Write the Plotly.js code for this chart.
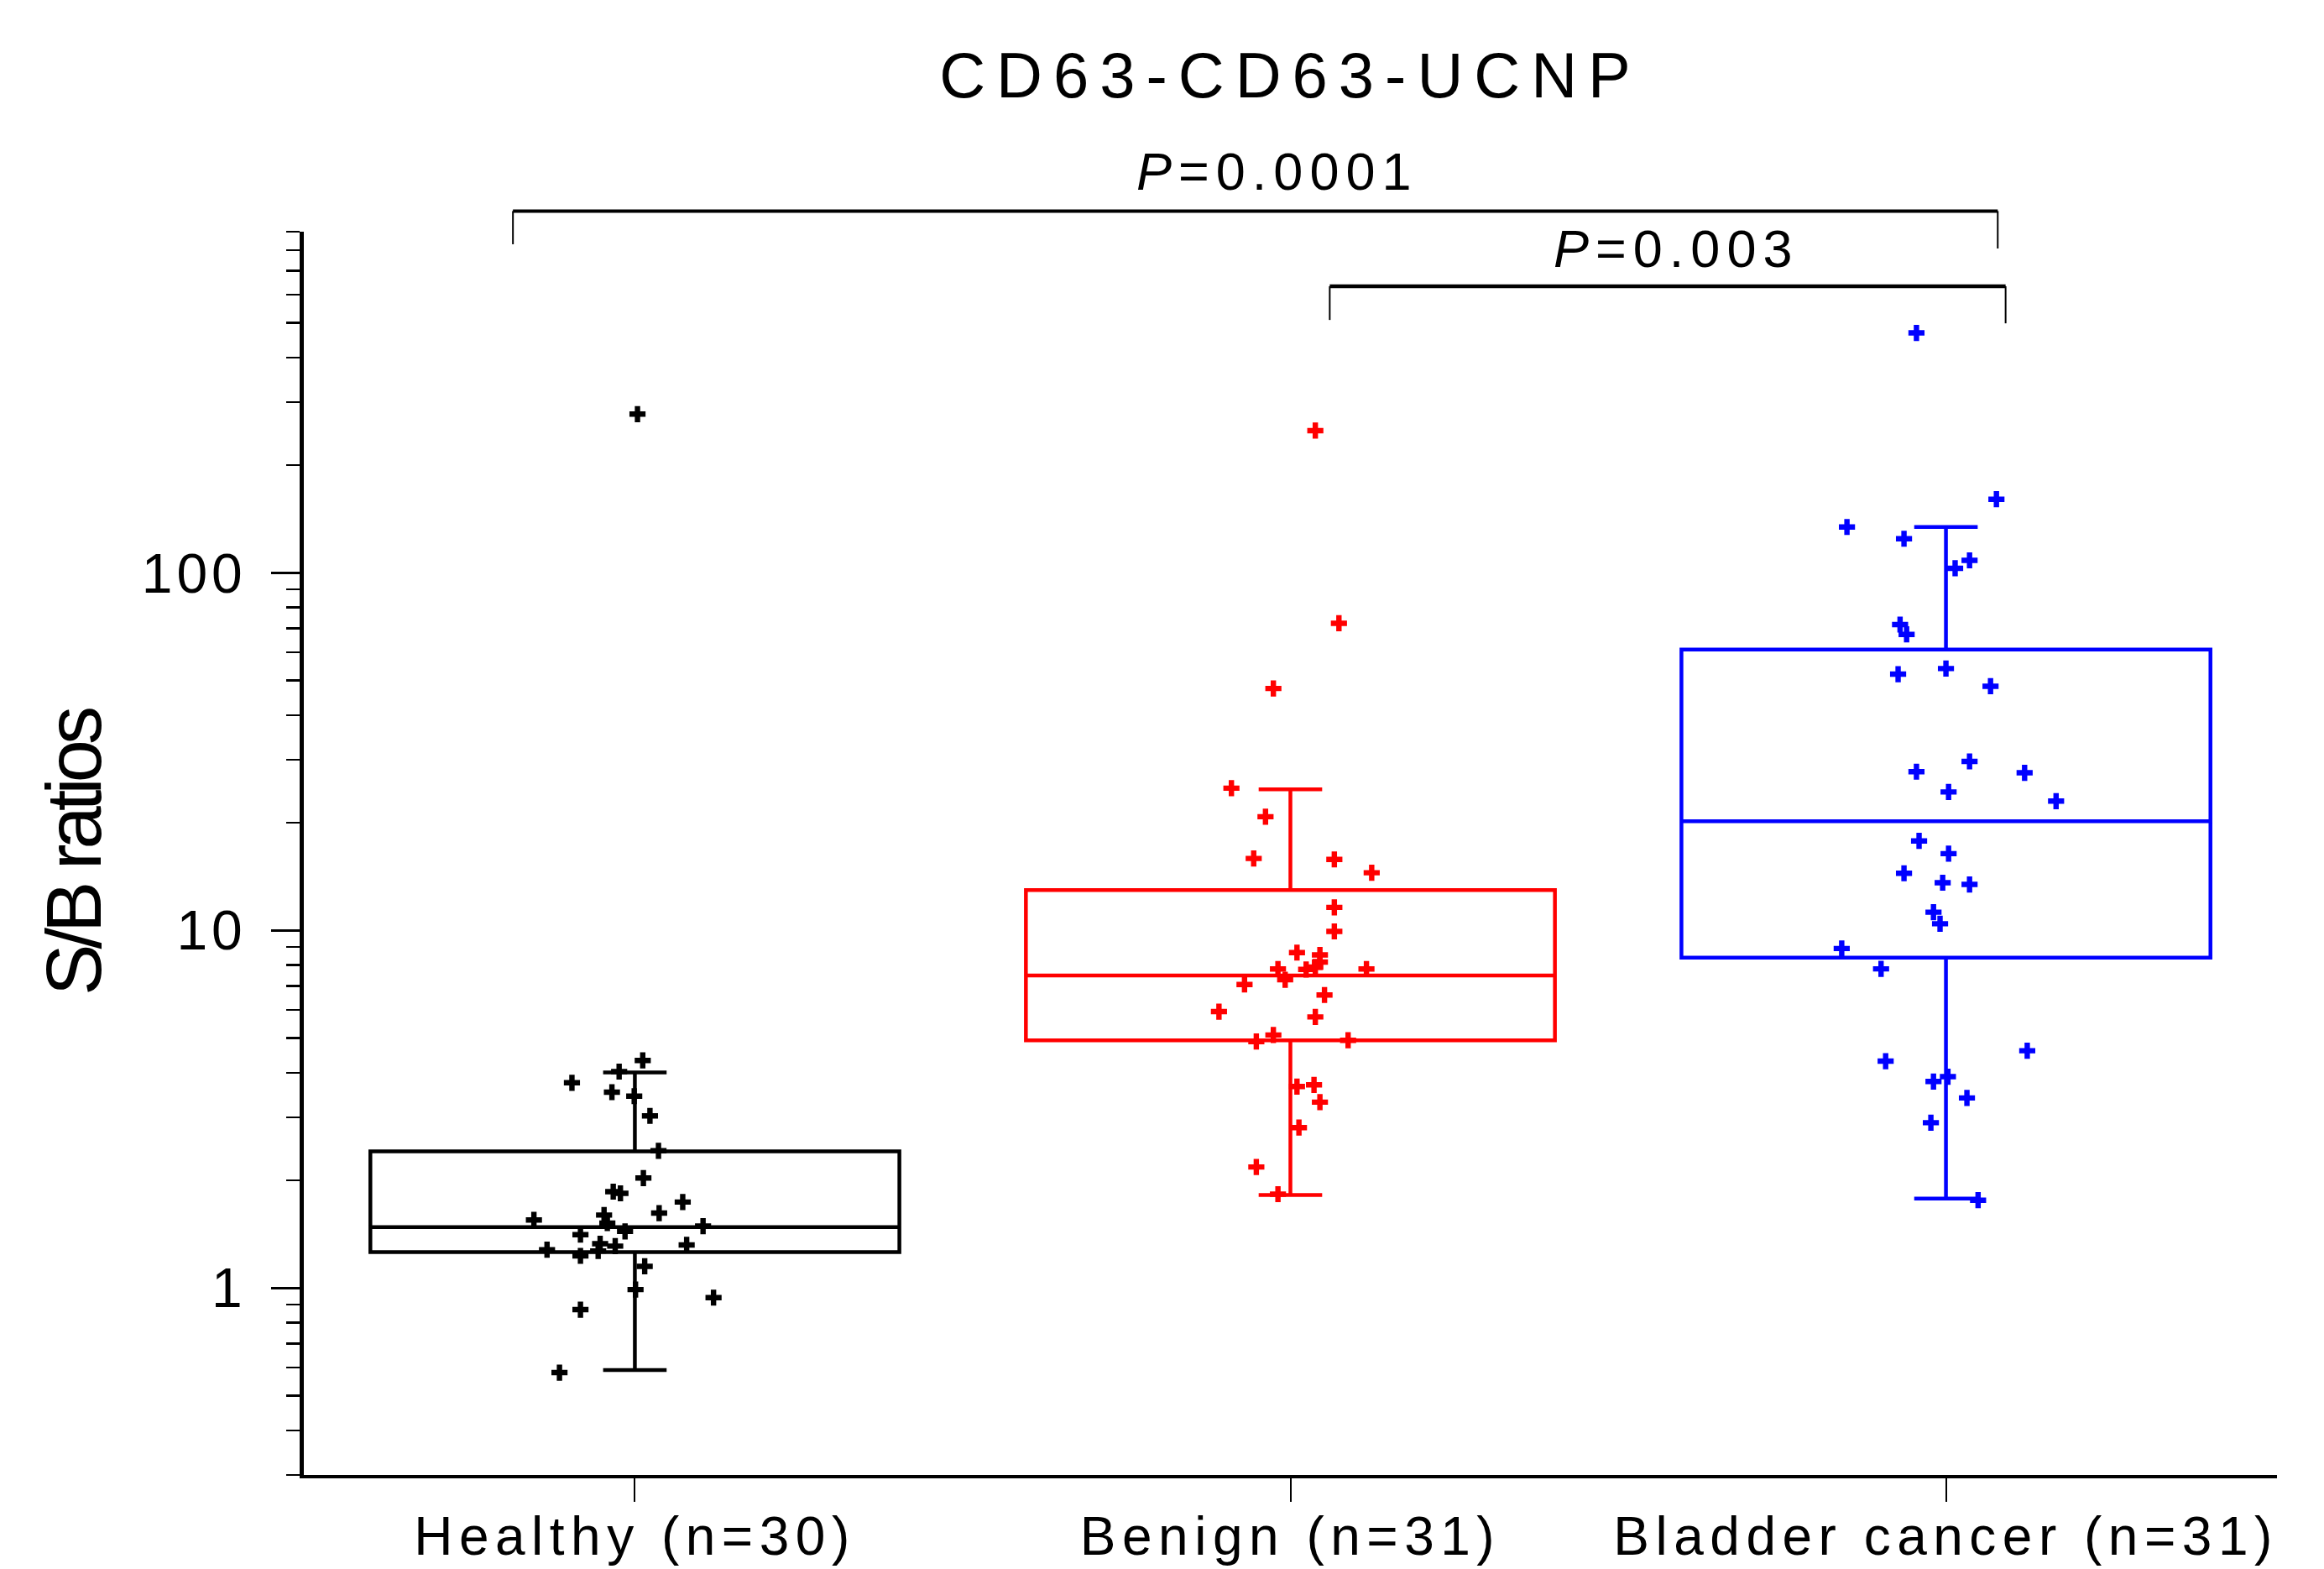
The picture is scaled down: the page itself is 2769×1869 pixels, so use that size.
<!DOCTYPE html>
<html>
<head>
<meta charset="utf-8">
<script src="https://cdn.plot.ly/plotly-3.0.1.min.js"></script>
<style>
  html, body { margin: 0; padding: 0; background: #fff; }
  #chart { width: 2769px; height: 1869px; }
  .gtitle { letter-spacing: 13px; }
  .xtick text { letter-spacing: 7.5px; }
  .ytick text { letter-spacing: 5px; }
  .annotation-text { letter-spacing: 8px; }
  .ytitle { letter-spacing: -6px; }
</style>
</head>
<body>
<div id="chart"></div>
<script>
// ---- data ----
const categories = ['Healthy (n=30)', 'Benign (n=31)', 'Bladder cancer (n=31)'];
const groupColors = ['#000000', '#ff0000', '#0000ff'];

const healthyValues = [278, 4.33, 4.03, 3.75, 3.53, 3.44, 3.03, 2.42, 2.03, 1.86, 1.84, 1.74, 1.62, 1.55,
  1.60, 1.52, 1.49, 1.41, 1.44, 1.33, 1.31, 1.32, 1.28, 1.27, 1.23, 1.15, 0.99, 0.94, 0.87, 0.58];
const healthyJitter = [0.004, 0.012, -0.024, -0.096, -0.035, -0.001, 0.023, 0.036, 0.013, -0.033, -0.022, 0.073, 0.037, -0.154,
  -0.047, -0.042, 0.104, -0.083, -0.015, -0.053, -0.030, 0.079, -0.134, -0.056, -0.083, 0.015, 0.001, 0.120, -0.083, -0.115];

const benignValues = [250, 72.3, 47.5, 25.0, 20.8, 15.9, 15.8, 14.5, 11.6, 9.94, 8.67, 8.54, 8.16, 7.80, 7.78, 7.9,
  7.8, 7.28, 7.06, 6.60, 5.93, 5.73, 5.10, 4.89, 4.93, 3.66, 3.70, 3.31, 2.81, 2.18, 1.83];
const benignJitter = [0.038, 0.074, -0.026, -0.090, -0.038, -0.056, 0.067, 0.124, 0.067, 0.067, 0.010, 0.045, 0.045, -0.019, 0.024, 0.038,
  0.116, -0.008, -0.070, 0.052, -0.109, 0.038, -0.026, -0.052, 0.088, 0.010, 0.036, 0.045, 0.013, -0.052, -0.019];

const bladderValues = [469, 160.7, 134.4, 124.6, 108.4, 103, 71.7, 67.3, 52.1, 54.0, 48.2, 27.8, 29.7, 27.6, 24.4, 23.0,
  17.8, 16.4, 14.45, 13.6, 13.45, 11.25, 10.44, 8.90, 7.81, 4.61, 4.31, 3.90, 3.78, 3.40, 2.90, 1.76];
const bladderJitter = [-0.045, 0.077, -0.151, -0.064, 0.036, 0.014, -0.070, -0.060, -0.073, 0.000, 0.068, -0.045, 0.036, 0.120, 0.004, 0.168,
  -0.041, 0.004, -0.064, -0.005, 0.036, -0.019, -0.009, -0.159, -0.099, 0.124, -0.092, 0.003, -0.019, 0.032, -0.023, 0.049];

const q1s = [1.26, 4.93, 8.39];
const medians = [1.48, 7.48, 20.2];
const q3s = [2.41, 12.97, 61.0];
const lowerWhiskers = [0.59, 1.82, 1.78];
const upperWhiskers = [4.01, 24.8, 134.4];

const yMajorTicks = [1, 10, 100];
const yMajorLabels = ['1', '10', '100'];
const yMinorTicks = [0.3, 0.4, 0.5, 0.6, 0.7, 0.8, 0.9, 2, 3, 4, 5, 6, 7, 8, 9,
  20, 30, 40, 50, 60, 70, 80, 90, 200, 300, 400, 500, 600, 700, 800, 900];
const pLabels = ['<i>P</i>=0.0001', '<i>P</i>=0.003'];
const chartTitle = 'CD63-CD63-UCNP';
const yTitle = 'S/B ratios';

// ---- build traces ----
const allValues = [healthyValues, benignValues, bladderValues];
const allJitter = [healthyJitter, benignJitter, bladderJitter];
const traces = [];
for (let g = 0; g < 3; g++) {
  traces.push({
    type: 'box',
    x: [g],
    q1: [q1s[g]], median: [medians[g]], q3: [q3s[g]],
    lowerfence: [lowerWhiskers[g]], upperfence: [upperWhiskers[g]],
    boxpoints: false,
    width: 0.807,
    whiskerwidth: 0.12,
    fillcolor: 'rgba(0,0,0,0)',
    line: { color: groupColors[g], width: 4.5 },
    hoverinfo: 'skip',
    showlegend: false
  });
}
for (let g = 0; g < 3; g++) {
  traces.push({
    type: 'scatter',
    mode: 'markers',
    x: allJitter[g].map(d => g + d),
    y: allValues[g],
    marker: { symbol: 'cross', size: 16, color: groupColors[g], line: { width: 0 } },
    cliponaxis: false,
    hoverinfo: 'skip',
    showlegend: false
  });
}

const font = 'Liberation Sans, Arial, sans-serif';
const lineShape = (x0, y0, x1, y1, w) => ({
  type: 'line', xref: 'x', yref: 'paper', x0, y0, x1, y1,
  line: { color: '#000', width: w }
});

const layout = {
  width: 2769, height: 1869,
  margin: { l: 362, r: 56, t: 276, b: 112 },
  paper_bgcolor: '#fff', plot_bgcolor: '#fff',
  boxmode: 'overlay',
  showlegend: false,
  font: { family: font, color: '#000' },
  title: {
    text: chartTitle,
    font: { family: font, size: 76, color: '#000' },
    xref: 'paper', x: 0.5, xanchor: 'center',
    yref: 'container', y: 0.952, yanchor: 'middle'
  },
  xaxis: {
    type: 'linear',
    range: [-0.505, 2.505],
    tickmode: 'array', tickvals: [0, 1, 2], ticktext: categories,
    ticks: 'outside', ticklen: 28, tickwidth: 2, tickcolor: '#000',
    tickfont: { family: font, size: 64, color: '#000' },
    ticklabelstandoff: -14,
    showline: true, linecolor: '#000', linewidth: 4,
    showgrid: false, zeroline: false, fixedrange: true
  },
  yaxis: {
    type: 'log',
    range: [Math.log10(0.3), Math.log10(900)],
    tickmode: 'array', tickvals: yMajorTicks, ticktext: yMajorLabels,
    ticks: 'outside', ticklen: 34, tickwidth: 2.5, tickcolor: '#000',
    tickfont: { family: font, size: 66, color: '#000' },
    ticklabelstandoff: 16,
    minor: { tickmode: 'array', tickvals: yMinorTicks, ticks: 'outside', ticklen: 16, tickwidth: 2.5, tickcolor: '#000', showgrid: false },
    showline: true, linecolor: '#000', linewidth: 5,
    showgrid: false, zeroline: false, fixedrange: true,
    title: { text: yTitle, font: { family: font, size: 92, color: '#000' }, standoff: 19 }
  },
  shapes: [
    lineShape(-0.186, 1.0166, 2.079, 1.0166, 4),
    lineShape(-0.186, 1.0166, -0.186, 0.9899, 2),
    lineShape(2.079, 1.0166, 2.079, 0.9865, 2),
    lineShape(1.060, 0.9561, 2.091, 0.9561, 4.5),
    lineShape(1.060, 0.9561, 1.060, 0.9290, 2),
    lineShape(2.091, 0.9561, 2.091, 0.9263, 2)
  ],
  annotations: [
    { text: pLabels[0], xref: 'x', yref: 'paper', x: 0.98, y: 1.0483, xanchor: 'center', yanchor: 'middle',
      showarrow: false, font: { family: font, size: 63, color: '#000' } },
    { text: pLabels[1], xref: 'x', yref: 'paper', x: 1.588, y: 0.9865, xanchor: 'center', yanchor: 'middle',
      showarrow: false, font: { family: font, size: 63, color: '#000' } }
  ]
};

Plotly.newPlot('chart', traces, layout, { displayModeBar: false, staticPlot: true });
</script>
</body>
</html>
